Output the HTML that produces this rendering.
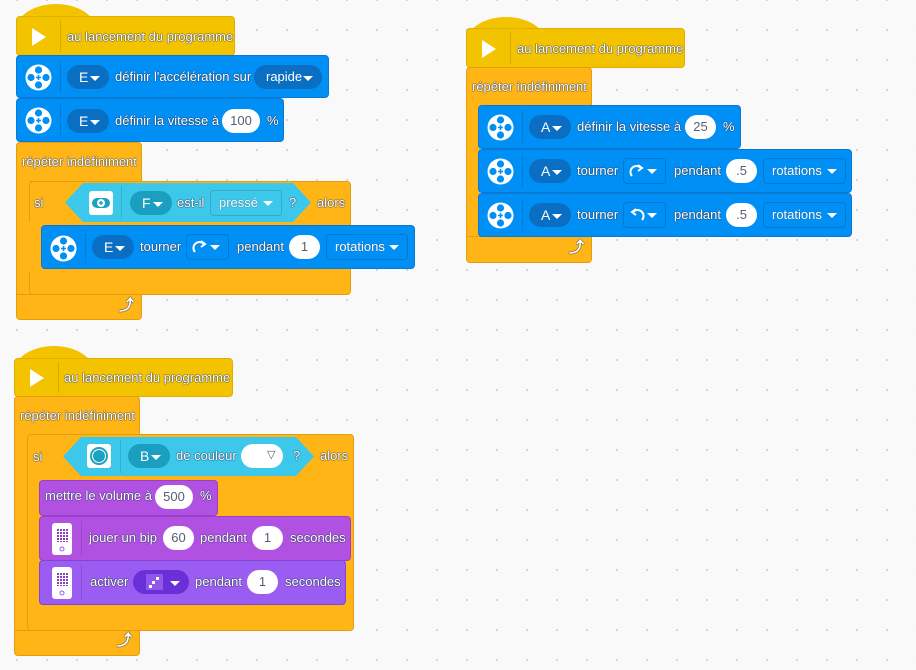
<!DOCTYPE html>
<html><head><meta charset="utf-8"><style>
*{margin:0;padding:0;box-sizing:border-box}
body{width:916px;height:670px;overflow:hidden;background-color:#f9f9f9;background-image:radial-gradient(circle,#d4d4d4 1px,transparent 1.3px);background-size:30px 30px;background-position:2px -15px;position:relative;font-family:"Liberation Sans",sans-serif}
.b{position:absolute;border-radius:4px}
.y{background:#f3c300;border:1px solid #dcaf00}
.o{background:#ffb515;border:1px solid #e39e10}
.bl{background:#0090f5;border:1px solid #0a79d6}
.pu{background:#b151e2;border:1px solid #9a3fca}
.pv{background:#9a5cf1;border:1px solid #7f45d6}
.t{position:absolute;color:#fff;font-size:13px;line-height:16px;white-space:nowrap;text-shadow:0 0 1px #2a3a5a,0 0 1px #2a3a5a,0 0 1px #2a3a5a}
.pill{position:absolute;height:24px;border-radius:12px;color:#fff;font-size:14px;line-height:24px;padding-left:12px}
.pill i{position:absolute;right:9px;top:11px;border-left:5px solid transparent;border-right:5px solid transparent;border-top:5px solid #fff}
.ov{position:absolute;height:24px;border-radius:12px;background:#fff;color:#575e75;font-size:13px;line-height:24px;text-align:center}
.dd{position:absolute;height:26px;border-radius:4px;border:1px solid rgba(0,0,0,.15);color:#fff;font-size:13px;line-height:24px;padding-left:8px;text-shadow:0 0 1px #3a4a6a}
.dd i{position:absolute;right:8px;top:10px;border-left:5px solid transparent;border-right:5px solid transparent;border-top:5px solid #fff}
.sep{position:absolute;width:1px;background:rgba(0,0,0,.12)}
.dome{position:absolute;border-radius:50% 50% 0 0/100% 100% 0 0}
.ar{font-weight:bold;font-size:15px}
</style></head><body>

<!-- SCRIPT 1 -->
<div class="dome" style="left:16px;top:4px;width:80px;height:26px;background:#f3c300"></div>
<div class="b y" style="left:16px;top:16px;width:219px;height:40px"></div>
<svg style="position:absolute;left:31px;top:27px" width="16" height="20"><polygon points="1,1 15,10 1,19" fill="#fff"/></svg>
<div class="sep" style="left:60px;top:20px;height:32px"></div>
<div class="t" style="left:67px;top:29px">au lancement du programme</div>

<div class="b bl" style="left:16px;top:55px;width:313px;height:43px"></div>
<div class="b bl" style="left:16px;top:98px;width:268px;height:44px"></div>

<div class="b o" style="left:16px;top:142px;width:126px;height:40px;border-radius:4px 4px 0 0"></div>
<div class="t" style="left:22px;top:154px">répéter indéfiniment</div>
<div style="position:absolute;left:16px;top:180px;width:14px;height:118px;background:#ffb515;border-left:1px solid #e39e10"></div>
<div class="b o" style="left:16px;top:294px;width:126px;height:26px;border-radius:0 0 4px 4px"></div>
<div class="t ar" style="left:119px;top:298px">⤴</div>

<div class="b o" style="left:29px;top:181px;width:322px;height:114px"></div>
<div class="t" style="left:34px;top:195px">si</div>
<svg style="position:absolute;left:65px;top:183px" width="246" height="39"><polygon points="0,19.5 18,0 228,0 246,19.5 228,39 18,39" fill="#3cc8ea"/></svg>
<div style="position:absolute;left:89px;top:191px;width:24px;height:24px;background:#fff;border-radius:3px"></div>
<svg style="position:absolute;left:90px;top:196px" width="22" height="14"><rect x="2" y="2" width="18" height="10" rx="5" fill="#1aa2c2"/><circle cx="11" cy="7" r="4" fill="#fff"/><path d="M11 5v4M9 7h4" stroke="#1aa2c2" stroke-width="1.4"/></svg>
<div class="sep" style="left:121px;top:186px;height:33px"></div>
<div class="pill" style="left:130px;top:191px;width:42px;background:#1a9fc0">F<i></i></div>
<div class="t" style="left:177px;top:195px">est-il</div>
<div class="dd" style="left:210px;top:190px;width:72px;background:#3cc8ea">pressé<i></i></div>
<div class="t" style="left:289px;top:195px">?</div>
<div class="t" style="left:317px;top:195px">alors</div>
<div style="position:absolute;left:29px;top:222px;width:12px;height:50px;background:#ffb515"></div>

<div class="b bl" style="left:41px;top:225px;width:374px;height:44px"></div>

<svg style="position:absolute;left:25px;top:64px" width="27" height="27"><defs><g id="m"><circle cx="13.5" cy="13.5" r="13" fill="#fff"/><circle cx="13.5" cy="6" r="3.6" fill="#0090f5"/><circle cx="13.5" cy="21" r="3.6" fill="#0090f5"/><circle cx="6" cy="13.5" r="3.6" fill="#0090f5"/><circle cx="21" cy="13.5" r="3.6" fill="#0090f5"/><path d="M13.5 11v5M11 13.5h5" stroke="#0090f5" stroke-width="1.5"/></g></defs><use href="#m"/></svg>
<svg style="position:absolute;left:25px;top:107px" width="27" height="27"><use href="#m"/></svg>
<svg style="position:absolute;left:50px;top:235px" width="27" height="27"><use href="#m"/></svg>
<div class="sep" style="left:60px;top:60px;height:33px"></div>
<div class="sep" style="left:60px;top:103px;height:33px"></div>
<div class="sep" style="left:85px;top:230px;height:33px"></div>

<div class="pill" style="left:67px;top:65px;width:42px;background:#0a6fc2">E<i></i></div>
<div class="t" style="left:115px;top:69px">définir l'accélération sur</div>
<div class="pill" style="left:254px;top:65px;width:68px;background:#0a6fc2;font-size:13px">rapide<i></i></div>

<div class="pill" style="left:67px;top:109px;width:42px;background:#0a6fc2">E<i></i></div>
<div class="t" style="left:115px;top:113px">définir la vitesse à</div>
<div class="ov" style="left:222px;top:109px;width:38px">100</div>
<div class="t" style="left:267px;top:113px">%</div>

<div class="pill" style="left:92px;top:235px;width:42px;background:#0a6fc2">E<i></i></div>
<div class="t" style="left:140px;top:239px">tourner</div>
<div class="dd" style="left:186px;top:234px;width:43px;background:#0090f5"><svg style="position:absolute;left:4px;top:4px" width="18" height="16"><path d="M4 13 A6 6 0 1 1 13 5" stroke="#fff" stroke-width="2" fill="none"/><path d="M10 2 L14 5 L10 8" stroke="#fff" stroke-width="2" fill="none"/></svg><i></i></div>
<div class="t" style="left:237px;top:239px">pendant</div>
<div class="ov" style="left:289px;top:235px;width:31px">1</div>
<div class="dd" style="left:326px;top:234px;width:82px;background:#0090f5">rotations<i></i></div>

<!-- SCRIPT 2 -->
<div class="dome" style="left:466px;top:17px;width:80px;height:26px;background:#f3c300"></div>
<div class="b y" style="left:466px;top:28px;width:219px;height:40px"></div>
<svg style="position:absolute;left:481px;top:39px" width="16" height="20"><polygon points="1,1 15,10 1,19" fill="#fff"/></svg>
<div class="sep" style="left:510px;top:32px;height:32px"></div>
<div class="t" style="left:517px;top:41px">au lancement du programme</div>

<div class="b o" style="left:466px;top:67px;width:126px;height:40px;border-radius:4px 4px 0 0"></div>
<div class="t" style="left:472px;top:79px">répéter indéfiniment</div>
<div style="position:absolute;left:466px;top:105px;width:14px;height:134px;background:#ffb515;border-left:1px solid #e39e10"></div>
<div class="b o" style="left:466px;top:236px;width:126px;height:27px;border-radius:0 0 4px 4px"></div>
<div class="t ar" style="left:569px;top:240px">⤴</div>

<div class="b bl" style="left:478px;top:105px;width:263px;height:44px"></div>
<div class="b bl" style="left:478px;top:149px;width:374px;height:44px"></div>
<div class="b bl" style="left:478px;top:193px;width:374px;height:44px"></div>
<svg style="position:absolute;left:487px;top:114px" width="27" height="27"><use href="#m"/></svg>
<svg style="position:absolute;left:487px;top:158px" width="27" height="27"><use href="#m"/></svg>
<svg style="position:absolute;left:487px;top:202px" width="27" height="27"><use href="#m"/></svg>
<div class="sep" style="left:522px;top:110px;height:33px"></div>
<div class="sep" style="left:522px;top:154px;height:33px"></div>
<div class="sep" style="left:522px;top:198px;height:33px"></div>

<div class="pill" style="left:529px;top:115px;width:42px;background:#0a6fc2">A<i></i></div>
<div class="t" style="left:577px;top:119px">définir la vitesse à</div>
<div class="ov" style="left:685px;top:115px;width:31px">25</div>
<div class="t" style="left:723px;top:119px">%</div>

<div class="pill" style="left:529px;top:159px;width:42px;background:#0a6fc2">A<i></i></div>
<div class="t" style="left:577px;top:163px">tourner</div>
<div class="dd" style="left:623px;top:158px;width:43px;background:#0090f5"><svg style="position:absolute;left:4px;top:4px" width="18" height="16"><path d="M4 13 A6 6 0 1 1 13 5" stroke="#fff" stroke-width="2" fill="none"/><path d="M10 2 L14 5 L10 8" stroke="#fff" stroke-width="2" fill="none"/></svg><i></i></div>
<div class="t" style="left:674px;top:163px">pendant</div>
<div class="ov" style="left:726px;top:159px;width:31px">.5</div>
<div class="dd" style="left:763px;top:158px;width:83px;background:#0090f5">rotations<i></i></div>

<div class="pill" style="left:529px;top:203px;width:42px;background:#0a6fc2">A<i></i></div>
<div class="t" style="left:577px;top:207px">tourner</div>
<div class="dd" style="left:623px;top:202px;width:43px;background:#0090f5"><svg style="position:absolute;left:4px;top:4px" width="18" height="16"><path d="M14 13 A6 6 0 1 0 5 5" stroke="#fff" stroke-width="2" fill="none"/><path d="M8 2 L4 5 L8 8" stroke="#fff" stroke-width="2" fill="none"/></svg><i></i></div>
<div class="t" style="left:674px;top:207px">pendant</div>
<div class="ov" style="left:726px;top:203px;width:31px">.5</div>
<div class="dd" style="left:763px;top:202px;width:83px;background:#0090f5">rotations<i></i></div>

<!-- SCRIPT 3 -->
<div class="dome" style="left:14px;top:346px;width:80px;height:26px;background:#f3c300"></div>
<div class="b y" style="left:14px;top:358px;width:219px;height:39px"></div>
<svg style="position:absolute;left:29px;top:368px" width="16" height="20"><polygon points="1,1 15,10 1,19" fill="#fff"/></svg>
<div class="sep" style="left:58px;top:362px;height:31px"></div>
<div class="t" style="left:64px;top:370px">au lancement du programme</div>

<div class="b o" style="left:14px;top:396px;width:126px;height:40px;border-radius:4px 4px 0 0"></div>
<div class="t" style="left:20px;top:408px">répéter indéfiniment</div>
<div style="position:absolute;left:14px;top:434px;width:14px;height:200px;background:#ffb515;border-left:1px solid #e39e10"></div>
<div class="b o" style="left:14px;top:630px;width:126px;height:26px;border-radius:0 0 4px 4px"></div>
<div class="t ar" style="left:117px;top:633px">⤴</div>

<div class="b o" style="left:27px;top:434px;width:327px;height:197px"></div>
<div class="t" style="left:33px;top:449px">si</div>
<svg style="position:absolute;left:63px;top:437px" width="251" height="39"><polygon points="0,19.5 18,0 233,0 251,19.5 233,39 18,39" fill="#3cc8ea"/></svg>
<div style="position:absolute;left:87px;top:444px;width:24px;height:24px;background:#fff;border-radius:3px"></div>
<div style="position:absolute;left:90px;top:447px;width:18px;height:18px;border-radius:50%;border:2px solid #1aa2c2"></div>
<div style="position:absolute;left:93px;top:450px;width:12px;height:12px;border-radius:50%;background:#1aa2c2"></div>
<div class="sep" style="left:120px;top:440px;height:33px"></div>
<div class="pill" style="left:128px;top:444px;width:42px;background:#1a9fc0">B<i></i></div>
<div class="t" style="left:176px;top:448px">de couleur</div>
<div class="ov" style="left:241px;top:444px;width:42px"><span style="position:absolute;left:26px;top:-1px;font-size:11px;color:#575e75">▽</span></div>
<div class="t" style="left:293px;top:448px">?</div>
<div class="t" style="left:320px;top:448px">alors</div>

<div class="b pu" style="left:39px;top:480px;width:179px;height:36px"></div>
<div class="t" style="left:45px;top:488px">mettre le volume à</div>
<div class="ov" style="left:155px;top:485px;width:38px">500</div>
<div class="t" style="left:200px;top:488px">%</div>

<div class="b pu" style="left:39px;top:516px;width:312px;height:45px"></div>
<div class="b pv" style="left:39px;top:560px;width:307px;height:45px"></div>
<svg style="position:absolute;left:51px;top:523px" width="22" height="33"><defs><pattern id="dp" width="3" height="3" patternUnits="userSpaceOnUse"><rect width="2" height="2" fill="#8a3fc0"/></pattern></defs><rect x="1" y="0" width="20" height="32" rx="3" fill="#fff"/><rect x="5" y="6" width="12" height="13" fill="url(#dp)"/><circle cx="11" cy="26" r="2" fill="none" stroke="#b151e2" stroke-width="1"/></svg>
<svg style="position:absolute;left:51px;top:567px" width="22" height="33"><rect x="1" y="0" width="20" height="32" rx="3" fill="#fff"/><rect x="5" y="6" width="12" height="13" fill="url(#dp)"/><circle cx="11" cy="26" r="2" fill="none" stroke="#9a5cf1" stroke-width="1"/></svg>
<div class="sep" style="left:81px;top:521px;height:35px"></div>
<div class="sep" style="left:81px;top:565px;height:35px"></div>
<div class="t" style="left:89px;top:530px">jouer un bip</div>
<div class="ov" style="left:163px;top:526px;width:31px">60</div>
<div class="t" style="left:200px;top:530px">pendant</div>
<div class="ov" style="left:252px;top:526px;width:31px">1</div>
<div class="t" style="left:290px;top:530px">secondes</div>

<div class="t" style="left:90px;top:574px">activer</div>
<div class="pill" style="left:133px;top:570px;width:56px;background:#6a2fd6"><svg style="position:absolute;left:13px;top:4px" width="17" height="16"><rect width="17" height="16" fill="#8f58ea"/><rect x="10" y="3" width="3" height="3" fill="#fff"/><rect x="6" y="7" width="3" height="3" fill="#fff"/><rect x="3" y="11" width="3" height="3" fill="#fff"/></svg><i></i></div>
<div class="t" style="left:195px;top:574px">pendant</div>
<div class="ov" style="left:247px;top:570px;width:31px">1</div>
<div class="t" style="left:285px;top:574px">secondes</div>

</body></html>
